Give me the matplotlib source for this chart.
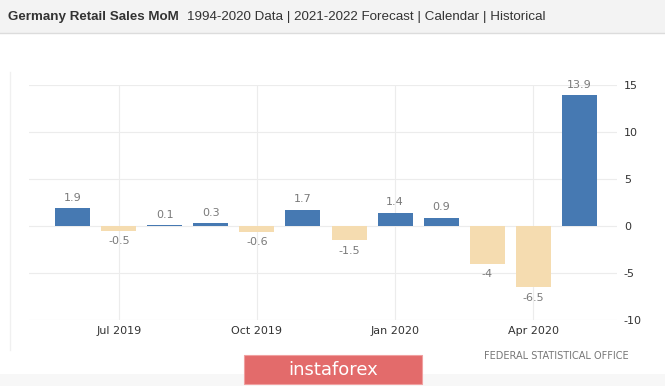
import matplotlib.pyplot as plt
from matplotlib.patches import Rectangle
from matplotlib.lines import Line2D

plt.rcParams['axes.unicode_minus'] = False

# Data
months = ['Jun 2019', 'Jul 2019', 'Aug 2019', 'Sep 2019', 'Oct 2019', 'Nov 2019',
          'Dec 2019', 'Jan 2020', 'Feb 2020', 'Mar 2020', 'Apr 2020', 'May 2020']
values = [1.9, -0.5, 0.1, 0.3, -0.6, 1.7, -1.5, 1.4, 0.9, -4, -6.5, 13.9]
value_labels = ['1.9', '-0.5', '0.1', '0.3', '-0.6', '1.7', '-1.5', '1.4', '0.9', '-4', '-6.5', '13.9']
tick_months = ['Jul 2019', 'Oct 2019', 'Jan 2020', 'Apr 2020']
y_ticks = [-10, -5, 0, 5, 10, 15]

blue = '#4679b2'
beige = '#f5dcb0'
label_gray = '#7a7a7a'
grid_gray = '#ececec'

W, H = 665, 386
fig = plt.figure(figsize=(W / 100, H / 100), dpi=100)
fig.patch.set_facecolor('white')

# header band
fig.patches.append(Rectangle((0, 1 - 33 / H), 1, 33 / H, transform=fig.transFigure,
                             facecolor='#f3f3f3', edgecolor='none', zorder=0))
fig.lines.append(Line2D([0, 1], [1 - 33 / H] * 2, transform=fig.transFigure,
                        color='#dcdcdc', lw=1))
# faint container border on the left
fig.lines.append(Line2D([10 / W] * 2, [1 - 72 / H, 1 - 350 / H], transform=fig.transFigure,
                        color='#f0f0f0', lw=1))
# bottom strip
fig.patches.append(Rectangle((0, 0), 1, 12 / H, transform=fig.transFigure,
                             facecolor='#f7f7f7', edgecolor='none', zorder=0))

fig.text(8 / W, 1 - 17 / H, 'Germany Retail Sales MoM', fontsize=9.6, fontweight='bold',
         color='#333333', va='center', ha='left', family='Liberation Sans')
fig.text(187 / W, 1 - 17 / H, '1994-2020 Data | 2021-2022 Forecast | Calendar | Historical',
         fontsize=9.6, color='#333333', va='center', ha='left', family='Liberation Sans')

ax = fig.add_axes([29 / W, 1 - 320 / H, (617 - 29) / W, (320 - 85) / H])
x = list(range(len(months)))
colors = [blue if v >= 0 else beige for v in values]
ax.bar(x, values, width=0.76, color=colors, zorder=3)

for xi, v, lab in zip(x, values, value_labels):
    if v >= 0:
        ax.annotate(lab, (xi, v), xytext=(0, 4), textcoords='offset points',
                    ha='center', va='bottom', fontsize=8, color=label_gray, clip_on=False)
    else:
        ax.annotate(lab, (xi, v), xytext=(0, -4), textcoords='offset points',
                    ha='center', va='top', fontsize=8, color=label_gray, clip_on=False)

ax.set_xlim(-0.95, 11.82)
ax.set_ylim(-10, 15)
ax.set_yticks(y_ticks)
ax.yaxis.tick_right()
ax.set_xticks([months.index(m) for m in tick_months])
ax.set_xticklabels(tick_months)
ax.tick_params(axis='x', length=0, pad=4, labelsize=8, labelcolor='#333333')
ax.tick_params(axis='y', length=0, pad=5, labelsize=8, labelcolor='#333333')
for lab in ax.get_yticklabels():
    lab.set_horizontalalignment('left')
ax.grid(True, color=grid_gray, lw=0.8, zorder=0)
for s in ax.spines.values():
    s.set_visible(False)

fig.text(629 / W, 1 - 356 / H, 'FEDERAL STATISTICAL OFFICE', fontsize=7, color='#777777',
         ha='right', va='center')

# watermark box
fig.patches.append(Rectangle((244 / W, 1 - 384 / H), (422 - 244) / W, (384 - 355) / H,
                             transform=fig.transFigure, facecolor='#e36b6b',
                             edgecolor='#f0a0a0', lw=0.8, zorder=5))
fig.text(333 / W, 1 - 370 / H, 'instaforex', fontsize=13, color='white',
         ha='center', va='center', zorder=6)

fig.savefig('out.png', dpi=100)
